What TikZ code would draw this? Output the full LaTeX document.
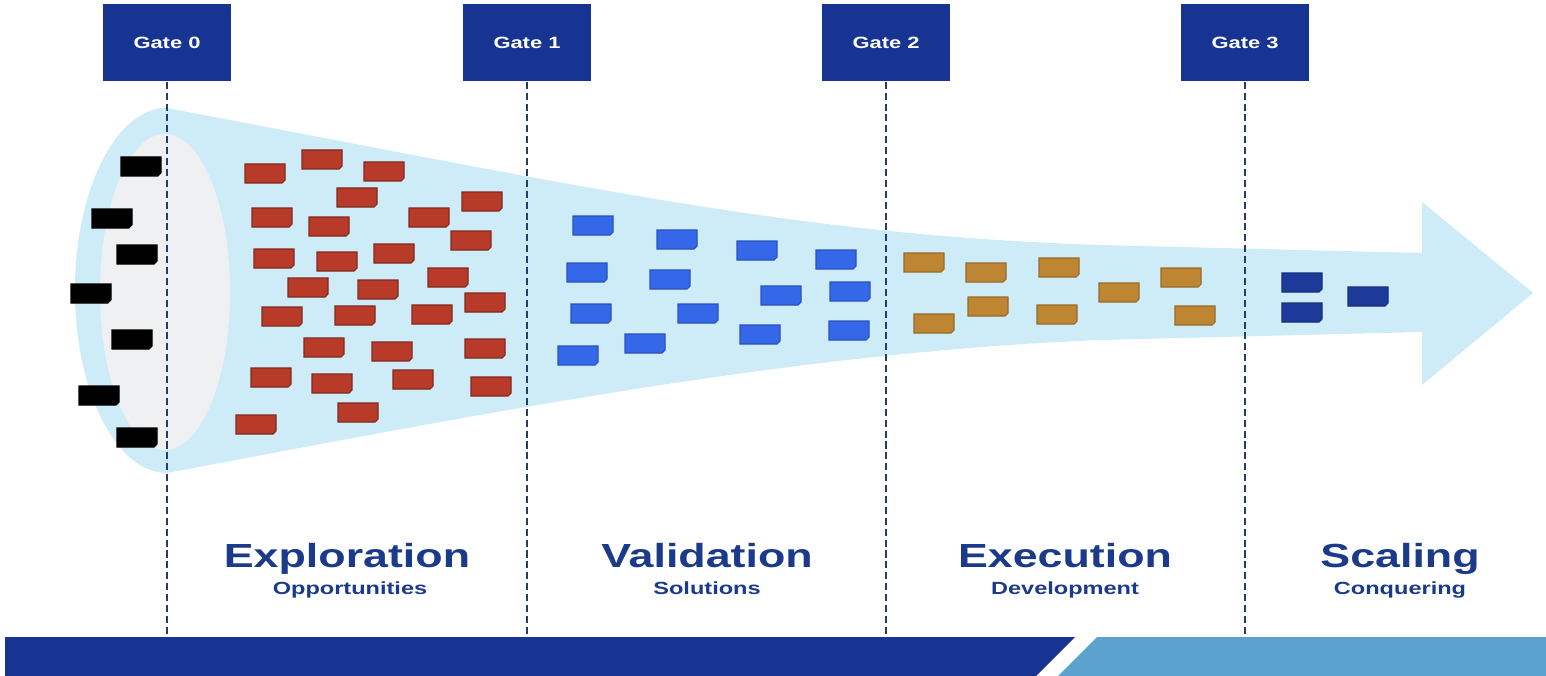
\documentclass[tikz,border=0pt]{standalone}
\usepackage{fontspec}
\setmainfont{Liberation Sans}
\definecolor{gateblue}{RGB}{24,52,146}
\definecolor{barlight}{RGB}{91,162,208}
\definecolor{funnelblue}{RGB}{206,235,248}
\definecolor{mouthgray}{RGB}{238,240,242}
\definecolor{gatedash}{RGB}{40,60,105}
\definecolor{phasetext}{RGB}{27,58,138}
\definecolor{brickred}{RGB}{184,59,42}
\definecolor{brickblue}{RGB}{52,104,232}
\definecolor{brickgold}{RGB}{190,134,51}
\definecolor{bricknavy}{RGB}{27,58,154}
\tikzset{
  gate/.style={fill=gateblue, minimum width=1.28cm, minimum height=0.77cm, inner sep=0pt,
    text=white, font=\fontsize{4.65}{5}\selectfont\bfseries},
  gateline/.style={gatedash, line width=0.75pt, dash pattern=on 2pt off 1.1pt},
  phase/.style={text=phasetext, anchor=base, inner sep=0pt, font=\fontsize{9.5}{11}\selectfont\bfseries},
  subphase/.style={text=phasetext, anchor=base, inner sep=0pt, font=\fontsize{5}{6}\selectfont\bfseries},
  brick/.pic={\filldraw[line width=0.3pt] (0,0) -- (40,0) -- (40,16) -- (37,19) -- (0,19) -- cycle;},
  blackbrick/.style={fill=black, draw=black},
  redbrick/.style={fill=brickred, draw=brickred!70!black},
  bluebrick/.style={fill=brickblue, draw=brickblue!80!black},
  goldbrick/.style={fill=brickgold, draw=brickgold!80!black},
  navybrick/.style={fill=bricknavy, draw=bricknavy!80!black}
}
\begin{document}
\begin{tikzpicture}[x=0.01cm, y=-0.01cm]
    \useasboundingbox (0,0) rectangle (1546,676);

    % funnel and arrow
    \fill[funnelblue] (167,108) .. controls (600,190) and (800,235) .. (1100,245) -- (1422,253)
        -- (1422,202) -- (1533,293) -- (1422,385) -- (1422,332) -- (1100,340)
        .. controls (800,352) and (500,410) .. (167,473)
        arc[start angle=270, end angle=90, x radius=0.92cm, y radius=1.825cm] -- cycle;
    \fill[mouthgray] (165,292) ellipse [x radius=0.65cm, y radius=1.58cm];

    % gates
    \node[gate] (g0) at (167,42.5) {\scalebox{1.34}[1]{Gate 0}};
    \node[gate] (g1) at (527,42.5) {\scalebox{1.34}[1]{Gate 1}};
    \node[gate] (g2) at (886,42.5) {\scalebox{1.34}[1]{Gate 2}};
    \node[gate] (g3) at (1245,42.5) {\scalebox{1.34}[1]{Gate 3}};

    \coordinate (b0) at (167,637);
    \coordinate (b1) at (527,637);
    \coordinate (b2) at (886,637);
    \coordinate (b3) at (1245,637);

    \draw[gateline] (g0.south) -- (b0);
    \draw[gateline] (g1.south) -- (b1);
    \draw[gateline] (g2.south) -- (b2);
    \draw[gateline] (g3.south) -- (b3);

    % ideas
    \pic[blackbrick] at (121,157) {brick};
    \pic[blackbrick] at (92,209) {brick};
    \pic[blackbrick] at (117,245) {brick};
    \pic[blackbrick] at (71,284) {brick};
    \pic[blackbrick] at (112,330) {brick};
    \pic[blackbrick] at (79,386) {brick};
    \pic[blackbrick] at (117,428) {brick};

    % opportunities
    \pic[redbrick] at (245,164) {brick};
    \pic[redbrick] at (302,150) {brick};
    \pic[redbrick] at (364,162) {brick};
    \pic[redbrick] at (337,188) {brick};
    \pic[redbrick] at (462,192) {brick};
    \pic[redbrick] at (252,208) {brick};
    \pic[redbrick] at (309,217) {brick};
    \pic[redbrick] at (409,208) {brick};
    \pic[redbrick] at (451,231) {brick};
    \pic[redbrick] at (254,249) {brick};
    \pic[redbrick] at (317,252) {brick};
    \pic[redbrick] at (374,244) {brick};
    \pic[redbrick] at (428,268) {brick};
    \pic[redbrick] at (288,278) {brick};
    \pic[redbrick] at (358,280) {brick};
    \pic[redbrick] at (465,293) {brick};
    \pic[redbrick] at (262,307) {brick};
    \pic[redbrick] at (335,306) {brick};
    \pic[redbrick] at (412,305) {brick};
    \pic[redbrick] at (304,338) {brick};
    \pic[redbrick] at (372,342) {brick};
    \pic[redbrick] at (465,339) {brick};
    \pic[redbrick] at (251,368) {brick};
    \pic[redbrick] at (312,374) {brick};
    \pic[redbrick] at (393,370) {brick};
    \pic[redbrick] at (471,377) {brick};
    \pic[redbrick] at (338,403) {brick};
    \pic[redbrick] at (236,415) {brick};

    % solutions
    \pic[bluebrick] at (573,216) {brick};
    \pic[bluebrick] at (657,230) {brick};
    \pic[bluebrick] at (737,241) {brick};
    \pic[bluebrick] at (816,250) {brick};
    \pic[bluebrick] at (567,263) {brick};
    \pic[bluebrick] at (650,270) {brick};
    \pic[bluebrick] at (761,286) {brick};
    \pic[bluebrick] at (830,282) {brick};
    \pic[bluebrick] at (571,304) {brick};
    \pic[bluebrick] at (678,304) {brick};
    \pic[bluebrick] at (740,325) {brick};
    \pic[bluebrick] at (829,321) {brick};
    \pic[bluebrick] at (625,334) {brick};
    \pic[bluebrick] at (558,346) {brick};

    % development
    \pic[goldbrick] at (904,253) {brick};
    \pic[goldbrick] at (966,263) {brick};
    \pic[goldbrick] at (1039,258) {brick};
    \pic[goldbrick] at (1099,283) {brick};
    \pic[goldbrick] at (1161,268) {brick};
    \pic[goldbrick] at (968,297) {brick};
    \pic[goldbrick] at (1037,305) {brick};
    \pic[goldbrick] at (914,314) {brick};
    \pic[goldbrick] at (1175,306) {brick};

    % scaling
    \pic[navybrick] at (1282,273) {brick};
    \pic[navybrick] at (1282,303) {brick};
    \pic[navybrick] at (1348,287) {brick};

    % phases
    \node[phase] (exploration) at (347,567) {\scalebox{1.34}[1]{Exploration}};
    \node[phase] (validation) at (707,567) {\scalebox{1.34}[1]{Validation}};
    \node[phase] (execution) at (1065,567) {\scalebox{1.34}[1]{Execution}};
    \node[phase] (scaling) at (1400,567) {\scalebox{1.34}[1]{Scaling}};
    \node[subphase] (opportunities) at (350,594) {\scalebox{1.34}[1]{Opportunities}};
    \node[subphase] (solutions) at (707,594) {\scalebox{1.34}[1]{Solutions}};
    \node[subphase] (development) at (1065,594) {\scalebox{1.34}[1]{Development}};
    \node[subphase] (conquering) at (1400,594) {\scalebox{1.34}[1]{Conquering}};

    % bottom bar
    \fill[gateblue] (5,637) -- (1075,637) -- (1036,676) -- (5,676) -- cycle;
    \fill[barlight] (1097,637) -- (1546,637) -- (1546,676) -- (1058,676) -- cycle;
\end{tikzpicture}
\end{document}
